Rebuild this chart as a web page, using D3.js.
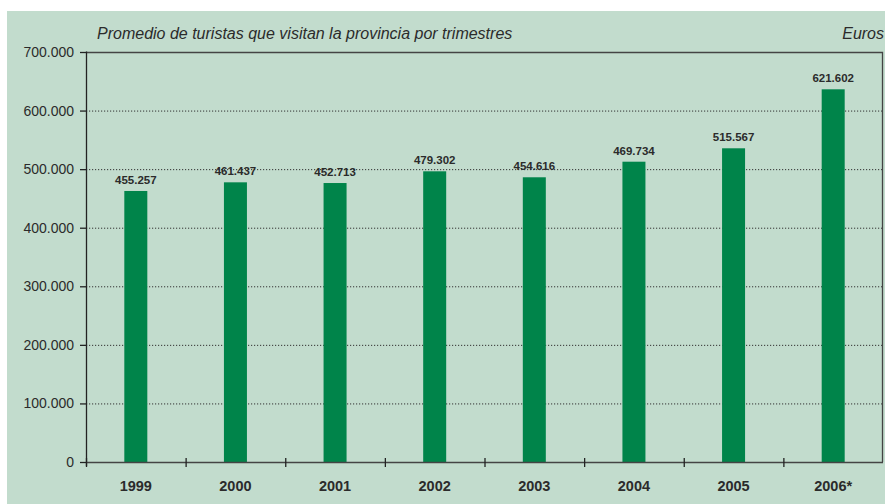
<!DOCTYPE html>
<html>
<head>
<meta charset="utf-8">
<script src="https://cdn.jsdelivr.net/npm/d3@7"></script>
<style>
  body { margin: 0; background: #fff; }
  svg text { font-family: "Liberation Sans", Arial, sans-serif; fill: #2b2b2b; }
</style>
</head>
<body>
<div id="chart"></div>
<script>
// data
var years = ["1999", "2000", "2001", "2002", "2003", "2004", "2005", "2006*"];
// bar heights as drawn
var barValues = [462700, 477500, 476300, 496300, 486100, 512700, 535600, 636300];
// printed labels
var labelTexts = ["455.257", "461.437", "452.713", "479.302", "454.616", "469.734", "515.567", "621.602"];
var yTicks = [0, 100000, 200000, 300000, 400000, 500000, 600000, 700000];

var W = 885, H = 504;
var margin = {top: 52, right: 2, bottom: 42, left: 86},
    width = W - margin.left - margin.right,
    height = H - margin.top - margin.bottom;

var svg = d3.select("#chart").append("svg")
    .attr("width", W)
    .attr("height", H);

// panel background
svg.append("rect")
    .attr("x", 7).attr("y", 11)
    .attr("width", W - 7).attr("height", H - 11)
    .attr("fill", "#c2dccd");

svg.append("text")
    .attr("x", 97).attr("y", 39)
    .attr("font-size", 16).attr("font-style", "italic")
    .text("Promedio de turistas que visitan la provincia por trimestres");

svg.append("text")
    .attr("x", 884).attr("y", 39)
    .attr("text-anchor", "end")
    .attr("font-size", 16).attr("font-style", "italic")
    .text("Euros");

var g = svg.append("g")
    .attr("transform", "translate(" + margin.left + "," + margin.top + ")");

var x = d3.scaleBand()
    .domain(years)
    .range([0, width]);
var y = d3.scaleLinear()
    .domain([0, 700000])
    .range([height, 0]);

var fmt = function(d) { return d3.format(",")(d).replace(/,/g, "."); };

// dotted gridlines
g.selectAll(".grid")
    .data(yTicks.filter(function(d) { return d > 0 && d < 700000; }))
  .enter().append("line")
    .attr("x1", 0).attr("x2", width)
    .attr("y1", function(d) { return y(d) + 0.5; })
    .attr("y2", function(d) { return y(d) + 0.5; })
    .attr("stroke", "#333")
    .attr("stroke-dasharray", "1.2,1.8");

// top and right frame
g.append("path")
    .attr("d", "M0," + (y(700000) + 0.5) + "H" + (width - 0.5) + "V" + height)
    .attr("fill", "none")
    .attr("stroke", "#444")
    .attr("stroke-width", 1.3);

// bars
g.selectAll(".bar")
    .data(barValues)
  .enter().append("rect")
    .attr("class", "bar")
    .attr("x", function(d, i) { return x(years[i]) + x.bandwidth() / 2 - 11.5; })
    .attr("width", 23)
    .attr("y", function(d) { return y(d); })
    .attr("height", function(d) { return height - y(d); })
    .attr("fill", "#00844a");

// value labels
g.selectAll(".lbl")
    .data(barValues)
  .enter().append("text")
    .attr("x", function(d, i) { return x(years[i]) + x.bandwidth() / 2; })
    .attr("y", function(d) { return y(d) - 7; })
    .attr("text-anchor", "middle")
    .attr("font-size", 11.5).attr("font-weight", "bold")
    .text(function(d, i) { return labelTexts[i]; });

// y axis
var yAxis = g.append("g")
    .call(d3.axisLeft(y).tickValues(yTicks).tickFormat(fmt).tickSize(6).tickPadding(6));
yAxis.select(".domain").attr("d", "M0.5,-0.5V" + (height + 4)).attr("stroke", "#222").attr("stroke-width", 1.3);
yAxis.selectAll(".tick line").attr("stroke", "#222").attr("stroke-width", 1.3);
yAxis.selectAll(".tick text").attr("font-size", 14).attr("font-family", "Liberation Sans, Arial, sans-serif").attr("fill", "#2b2b2b");

// x axis
var xAxis = g.append("g")
    .attr("transform", "translate(0," + height + ")");
xAxis.append("line")
    .attr("x1", 0).attr("x2", width)
    .attr("y1", 0.5).attr("y2", 0.5)
    .attr("stroke", "#444").attr("stroke-width", 1.3);
xAxis.selectAll(".xt")
    .data(years)
  .enter().append("line")
    .attr("x1", function(d) { return x(d) + 0.5; })
    .attr("x2", function(d) { return x(d) + 0.5; })
    .attr("y1", -4).attr("y2", 5)
    .attr("stroke", "#222").attr("stroke-width", 1.3);
xAxis.selectAll(".xl")
    .data(years)
  .enter().append("text")
    .attr("x", function(d) { return x(d) + x.bandwidth() / 2; })
    .attr("y", 29)
    .attr("text-anchor", "middle")
    .attr("font-size", 14.5).attr("font-weight", "bold")
    .text(function(d) { return d; });
</script>
</body>
</html>
